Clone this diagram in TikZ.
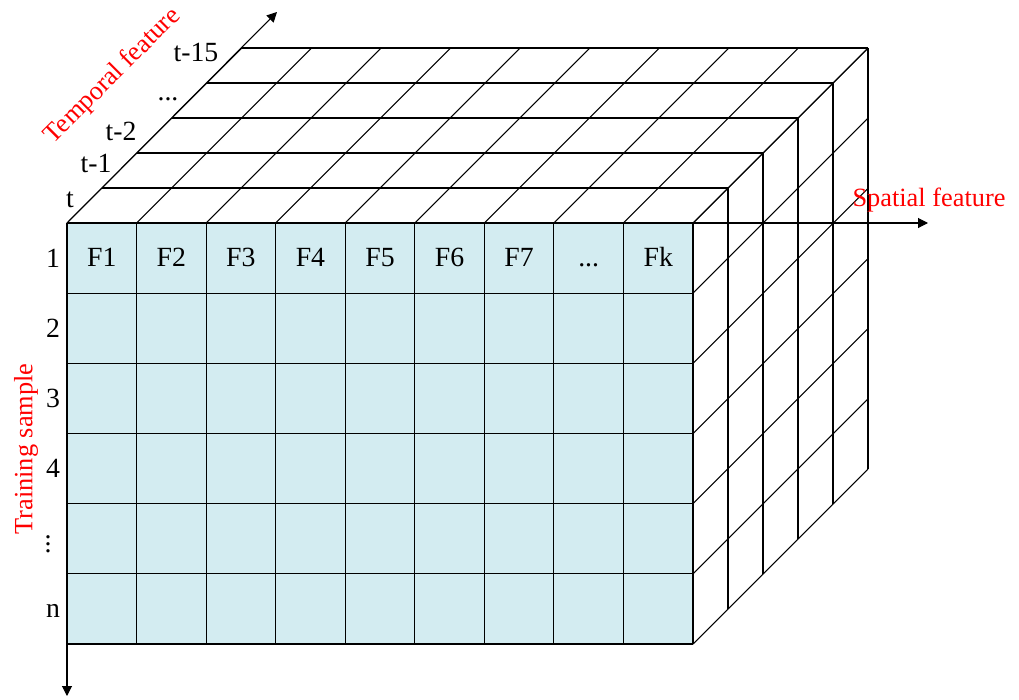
\documentclass[tikz,border=0pt]{standalone}
\usepackage{fontspec}
\setmainfont[Ligatures=NoCommon]{Liberation Serif}
\usetikzlibrary{arrows.meta}
\definecolor{cellblue}{RGB}{211,236,241}
\definecolor{axisred}{RGB}{255,0,0}
\newcommand{\threedots}{.\kern0pt.\kern0pt.}
\tikzset{
  gridline/.style={line width=0.6pt,black},
  axis/.style={line width=0.6pt,-{Triangle[length=2mm,width=2mm]}},
  lab/.style={font=\fontsize{15.8}{18}\selectfont,inner sep=0pt},
  axlab/.style={lab,font=\fontsize{15}{18}\selectfont,text=axisred}
}
\begin{document}
\begin{tikzpicture}[x=0.02cm,y=-0.02cm]
    \useasboundingbox (0,0) rectangle (1019,700);
    \def\cw{69.556}\def\ch{70.167}\def\dd{35}
    % front face
    \fill[cellblue] (67,223) rectangle (693,644);
    \foreach \i in {0,...,9}
      \draw[gridline] (67+\i*\cw,223) -- (67+\i*\cw,644);
    \foreach \j in {0,...,6}
      \draw[gridline] (67,223+\j*\ch) -- (693,223+\j*\ch);
    % top face
    \foreach \k in {1,...,5}
      \draw[gridline] (67+\k*\dd,223-\k*\dd) -- (693+\k*\dd,223-\k*\dd);
    \foreach \i in {0,...,9}
      \draw[gridline] (67+\i*\cw,223) -- ++(175,-175);
    % right face
    \foreach \k in {1,...,5}
      \draw[gridline] (693+\k*\dd,223-\k*\dd) -- (693+\k*\dd,644-\k*\dd);
    \foreach \j in {0,...,6}
      \draw[gridline] (693,223+\j*\ch) -- ++(175,-175);
    % axes
    \coordinate (O) at (67,223);
    \coordinate (xend) at (928,223);
    \coordinate (yend) at (67,696);
    \coordinate (zend) at (277,12);
    \draw[axis] (O) -- (xend);
    \draw[axis] (O) -- (yend);
    \draw[axis] (O) -- (zend);
    \node[axlab] (spatial) at (929,200) {Spatial feature};
    \node[axlab,rotate=90] (sample) at (26,449) {Training sample};
    \node[axlab,rotate=45] (temporal) at (113,76) {Temporal feature};
    % time labels
    \node[lab,anchor=base] (t0) at (70,207) {t};
    \node[lab,anchor=base] (t1) at (96,172) {t-1};
    \node[lab,anchor=base] (t2) at (121,140) {t-2};
    \node[lab,anchor=base] (tdots) at (168,100) {\threedots};
    \node[lab,anchor=base] (t15) at (196,61) {t-15};
    % feature labels
    \foreach \i in {1,...,7}
      \node[lab,anchor=base] (f\i) at (67+\i*\cw-0.5*\cw,266) {F\i};
    \node[lab,anchor=base] (fdots) at (67+7.5*\cw,266) {\threedots};
    \node[lab,anchor=base] (fk) at (67+8.5*\cw,266) {Fk};
    % sample labels
    \foreach \r/\lbl in {1/1,2/2,3/3,4/4,6/n}
      \node[lab,anchor=base] (s\r) at (53,232+\r*\ch-0.5*\ch) {\lbl};
    \node[lab] (sdots) at (48,223+4.5*\ch) {$\vdots$};
  \end{tikzpicture}
\end{document}
